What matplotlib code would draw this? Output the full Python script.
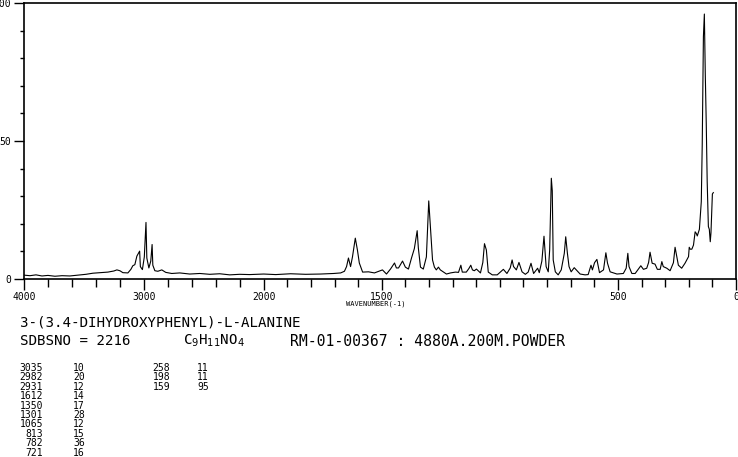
import numpy as np
import matplotlib.pyplot as plt

# Spektrum: bilangan gelombang dan intensitas
wavenumber = [4000, 3950, 3900, 3850, 3800, 3742, 3683, 3617, 3550, 3483,
              3425, 3367, 3300, 3250, 3225, 3200, 3175, 3133, 3108, 3092,
              3075, 3058, 3035, 3029, 3012, 2996, 2982, 2975, 2958, 2942,
              2931, 2925, 2908, 2883, 2850, 2817, 2767, 2700, 2617, 2533,
              2450, 2367, 2283, 2200, 2117, 2000,
              1949, 1886, 1822, 1759, 1704, 1674, 1658, 1649, 1641, 1632,
              1624, 1612, 1603, 1595, 1581, 1556, 1531, 1497, 1480, 1463,
              1446, 1438, 1429, 1412, 1400, 1387, 1374, 1362, 1350, 1345,
              1336, 1324, 1311, 1301, 1294, 1285, 1277, 1269, 1260, 1252,
              1226, 1209, 1188, 1175, 1165, 1159, 1142, 1131, 1123, 1116,
              1108, 1099, 1082, 1072, 1065, 1057, 1049, 1032, 1011, 998,
              985, 970, 956, 948, 942, 930, 919, 906, 892, 880,
              868, 857, 840, 833, 822, 813, 804, 795, 789, 782,
              778, 774, 765, 753, 740, 727, 721, 714, 707, 698,
              685, 672, 660, 639, 626, 614, 608, 599, 589, 578,
              561, 551, 544, 533, 504, 477, 465, 458, 453, 441,
              427, 414, 403, 392, 378, 370, 364, 355, 343, 333,
              321, 314, 308, 293, 279, 265, 258, 248, 244, 230,
              216, 201, 198, 194, 187, 180, 173, 168, 164, 155,
              147, 143, 138, 134, 130, 126, 122, 117, 113, 109,
              106, 100, 96]
intensity = [1.4, 1.2, 1.5, 1.1, 1.3, 1.0, 1.2, 1.1, 1.4, 1.7,
             2.1, 2.3, 2.5, 2.9, 3.3, 3.0, 2.3, 2.2, 3.5, 4.8,
             5.2, 8.3, 10.1, 4.5, 3.4, 8.0, 20.5, 7.6, 4.0, 6.5,
             12.5, 5.0, 3.0, 2.8, 3.3, 2.4, 2.0, 2.2, 1.8, 2.0,
             1.7, 1.9, 1.5, 1.7, 1.6, 1.8,
             1.6, 1.9, 1.7, 1.8, 2.0, 2.2, 2.8, 4.5, 7.6, 4.5,
             8.0, 14.8, 10.5, 5.8, 2.5, 2.6, 2.2, 3.3, 1.8, 3.6,
             5.8, 4.0, 4.0, 6.5, 4.3, 3.6, 7.6, 11.0, 17.5, 11.2,
             4.3, 3.6, 8.0, 28.3, 19.0, 6.9, 4.3, 3.3, 4.3, 3.3,
             1.8, 2.2, 2.5, 2.4, 5.0, 2.5, 2.5, 3.8, 5.0, 3.3,
             3.0, 3.6, 2.2, 6.0, 12.8, 10.5, 2.5, 1.5, 1.5, 2.5,
             3.5, 2.0, 4.0, 6.9, 4.5, 3.3, 6.0, 2.6, 1.7, 2.5,
             5.7, 2.0, 3.9, 2.3, 6.5, 15.5, 4.5, 2.6, 10.5, 36.5,
             32.0, 6.9, 2.6, 1.5, 3.3, 9.3, 15.3, 9.4, 4.5, 2.6,
             4.1, 2.9, 1.8, 1.5, 1.6, 5.0, 3.3, 5.9, 7.1, 2.3,
             3.3, 9.5, 5.7, 2.6, 1.8, 2.0, 3.9, 9.3, 4.5, 2.0,
             2.0, 3.5, 4.8, 3.5, 3.9, 6.0, 9.7, 5.7, 5.4, 3.5,
             3.5, 6.3, 4.5, 3.9, 3.0, 5.9, 11.5, 6.9, 5.0, 3.9,
             5.7, 8.1, 11.5, 10.8, 10.8, 12.3, 17.1, 16.5, 15.6, 18.0,
             28.0, 48.6, 87.8, 96.0, 73.9, 56.5, 35.3, 19.0, 18.0, 13.5,
             16.7, 30.8, 31.3]

# Daftar puncak
peak_pos_1 = ["3035", "2982", "2931", "1612", "1350", "1301", "1065", "813", "782", "721"]
peak_int_1 = ["10", "20", "12", "14", "17", "28", "12", "15", "36", "16"]
peak_pos_2 = ["258", "198", "159"]
peak_int_2 = ["11", "11", "95"]

x_major = [4000, 3000, 2000, 1500, 500, 0]
x_labels = ["4000", "3000", "2000", "1500", "500", "0"]
y_major = [0, 50, 100]

W, H = 738, 457
MONO = "DejaVu Sans Mono"


# skala sumbu x: 4000-2000 dipadatkan, 2000-0 diperlebar
def fwd(w):
    w = np.asarray(w, float)
    return np.where(w >= 2000, 473 + (w - 2000) * 0.12, w * 0.2365)


def inv(u):
    u = np.asarray(u, float)
    return np.where(u >= 473, 2000 + (u - 473) / 0.12, u / 0.2365)


fig = plt.figure(figsize=(W / 100, H / 100), dpi=100)
ax = fig.add_axes([24 / W, 178 / H, 712 / W, 276 / H])
ax.set_xscale("function", functions=(fwd, inv))
ax.plot(wavenumber, intensity, color="black", lw=0.8)
ax.set_xlim(4000, 0)
ax.set_ylim(0, 100)

minor_x = [v for v in list(range(2200, 4000, 200)) + list(range(100, 2000, 100)) if v not in x_major]
ax.set_xticks(x_major)
ax.set_xticklabels(x_labels, fontfamily=MONO, fontsize=7)
ax.set_xticks(minor_x, minor=True)
ax.set_yticks(y_major)
ax.set_yticklabels(["0", "50", "100"], fontfamily=MONO, fontsize=7)
ax.set_yticks(range(10, 100, 10), minor=True)
ax.tick_params(axis="x", which="major", direction="out", length=8, width=1, pad=1.5)
ax.tick_params(axis="x", which="minor", direction="out", length=6, width=1)
ax.tick_params(axis="y", which="major", direction="out", length=7, width=1, pad=2)
ax.tick_params(axis="y", which="minor", direction="out", length=3, width=1)
for s in ax.spines.values():
    s.set_linewidth(1.2)

fig.text(376 / W, 1 - 304 / H, "WAVENUMBER(-1)", fontfamily=MONO, fontsize=5,
         ha="center", va="center")

# teks keterangan
def put(x, y, s, size):
    fig.text(x / W, 1 - y / H, s, fontfamily=MONO, fontsize=size, ha="left", va="center")


put(20, 323, "3-(3.4-DIHYDROXYPHENYL)-L-ALANINE", 10.2)
put(20, 341, "SDBSNO = 2216", 10.2)
put(183, 341, r"C$_9$H$_{11}$NO$_4$", 10.2)
put(290, 341, "RM-01-00367 : 4880A.200M.POWDER", 10.6)

for i in range(len(peak_pos_1)):
    y = 368 + i * 9.4
    fig.text(43 / W, 1 - y / H, peak_pos_1[i], fontfamily=MONO, fontsize=7, ha="right", va="center")
    fig.text(73 / W, 1 - y / H, peak_int_1[i], fontfamily=MONO, fontsize=7, ha="left", va="center")
for i in range(len(peak_pos_2)):
    y = 368 + i * 9.4
    fig.text(170 / W, 1 - y / H, peak_pos_2[i], fontfamily=MONO, fontsize=7, ha="right", va="center")
    fig.text(197 / W, 1 - y / H, peak_int_2[i], fontfamily=MONO, fontsize=7, ha="left", va="center")

fig.savefig("out.png", dpi=100)
